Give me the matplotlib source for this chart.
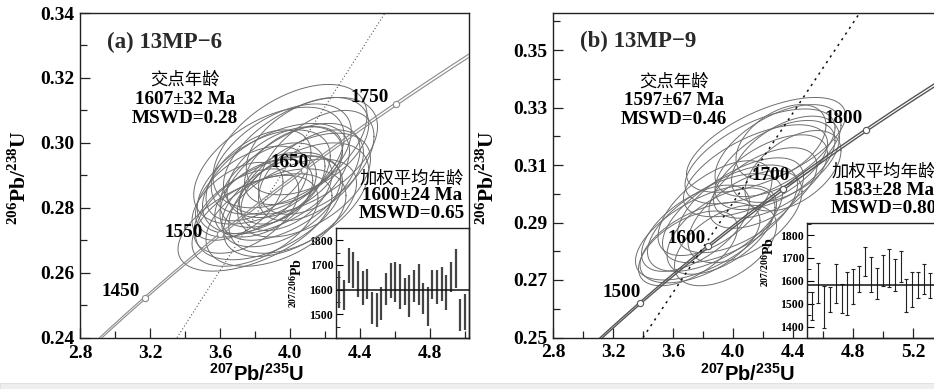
import numpy as np
import matplotlib
matplotlib.use('Agg')
import matplotlib.pyplot as plt
from matplotlib.ticker import MultipleLocator
from matplotlib.patches import Rectangle

plt.rcParams['mathtext.fontset'] = 'custom'
plt.rcParams['mathtext.bf'] = 'Liberation Serif:bold'
plt.rcParams['mathtext.rm'] = 'Liberation Serif:bold'
plt.rcParams['mathtext.sf'] = 'Liberation Sans:bold'

# decay constants (1/yr) for the concordia
L238 = 1.55125e-10
L235 = 9.8485e-10

# ---- panel (a) 13MP-6 : ellipses (centre, 2s half-extent x / y, rho)
a_ex = [4.00, 4.06, 3.95, 4.10, 3.88, 4.15, 3.92, 3.85, 4.00, 3.90, 3.97, 4.08, 3.82, 3.93,
        4.02, 3.78, 3.88, 3.92, 3.80, 4.00, 3.95, 4.05, 3.85, 3.75, 4.12, 3.98, 3.70, 3.80]
a_ey = [0.2990, 0.2960, 0.2950, 0.2990, 0.2930, 0.2940, 0.2890, 0.2880, 0.2880, 0.2870,
        0.2910, 0.2870, 0.2900, 0.2860, 0.2930, 0.2850, 0.2800, 0.2770, 0.2760, 0.2800,
        0.2820, 0.2830, 0.2830, 0.2790, 0.2900, 0.2850, 0.2820, 0.2755]
a_sx = [0.44, 0.44, 0.40, 0.35, 0.43, 0.33, 0.42, 0.38, 0.40, 0.30, 0.33, 0.38, 0.30, 0.22,
        0.28, 0.32, 0.42, 0.40, 0.36, 0.38, 0.34, 0.40, 0.28, 0.30, 0.30, 0.26, 0.26, 0.44]
a_sy = [0.019, 0.018, 0.017, 0.015, 0.018, 0.016, 0.017, 0.016, 0.018, 0.013, 0.014, 0.016,
        0.014, 0.011, 0.012, 0.014, 0.016, 0.015, 0.014, 0.015, 0.014, 0.017, 0.012, 0.013,
        0.014, 0.012, 0.012, 0.015]
a_rho = [0.5, 0.5, 0.5, 0.45, 0.5, 0.5, 0.5, 0.5, 0.55, 0.45, 0.45, 0.5, 0.5, 0.4,
         0.45, 0.5, 0.5, 0.45, 0.5, 0.5, 0.5, 0.5, 0.45, 0.5, 0.5, 0.45, 0.5, 0.55]
a_ages = [1450, 1550, 1650, 1750]
a_disc_x = [3.354, 4.543]
a_disc_y = [0.24, 0.34]
a_wm_top = [1674, 1640, 1770, 1752, 1715, 1674, 1685, 1592, 1585, 1612, 1667, 1708, 1712, 1702,
            1649, 1660, 1681, 1704, 1626, 1612, 1678, 1678, 1691, 1658, 1712, 1763, 1564, 1581]
a_wm_bot = [1526, 1516, 1626, 1605, 1571, 1537, 1564, 1461, 1448, 1475, 1537, 1567, 1551, 1523,
            1537, 1489, 1551, 1537, 1503, 1452, 1562, 1540, 1553, 1516, 1592, 1608, 1434, 1438]
a_wm_mean = 1600

# ---- panel (b) 13MP-9
b_ex = [4.22, 4.18, 4.30, 4.15, 4.28, 4.35, 4.25, 4.40, 4.32, 4.20,
        3.82, 3.88, 3.78, 3.98, 3.92, 3.75, 4.05, 3.70, 3.95, 4.08, 3.88]
b_ey = [0.3170, 0.3130, 0.3150, 0.3080, 0.3100, 0.3120, 0.3060, 0.3080, 0.3180, 0.3020,
        0.2865, 0.2900, 0.2830, 0.2930, 0.2870, 0.2880, 0.2960, 0.2810, 0.2820, 0.2920, 0.2950]
b_sx = [0.53, 0.50, 0.42, 0.48, 0.40, 0.36, 0.38, 0.32, 0.30, 0.36,
        0.47, 0.45, 0.40, 0.45, 0.36, 0.36, 0.42, 0.33, 0.34, 0.38, 0.38]
b_sy = [0.0165, 0.0165, 0.0160, 0.0160, 0.0155, 0.0150, 0.0145, 0.0140, 0.0130, 0.0140,
        0.0165, 0.0170, 0.0140, 0.0170, 0.0150, 0.0150, 0.0165, 0.0130, 0.0140, 0.0160, 0.0165]
b_rho = [0.62, 0.6, 0.55, 0.6, 0.55, 0.5, 0.55, 0.5, 0.45, 0.55,
         0.6, 0.6, 0.55, 0.6, 0.55, 0.6, 0.6, 0.55, 0.5, 0.55, 0.6]
b_ages = [1500, 1600, 1700, 1800]
b_disc_x = [3.40, 4.84]
b_disc_y = [0.25, 0.3625]
b_wm_top = [1549, 1680, 1578, 1575, 1673, 1585, 1637, 1651, 1663, 1746, 1705,
            1656, 1714, 1739, 1695, 1729, 1610, 1637, 1637, 1673, 1634]
b_wm_bot = [1427, 1505, 1395, 1464, 1505, 1458, 1449, 1498, 1552, 1619, 1552,
            1520, 1578, 1575, 1556, 1593, 1464, 1486, 1524, 1544, 1527]
b_wm_mean = 1583

W, H = 934, 389
fig = plt.figure(figsize=(W / 100, H / 100), dpi=100)
fig.patch.set_facecolor('white')

SERIF = ['Liberation Serif', 'DejaVu Serif']
CJK = ['Noto Sans CJK SC', 'DejaVu Sans']


def box(l, r, t, b):
    return [l / W, (H - b) / H, (r - l) / W, (b - t) / H]


def concordia(t_ma, k=1.0):
    t = np.asarray(t_ma) * 1e6
    return np.exp(L235 * k * t) - 1, np.exp(L238 * t) - 1


def draw_panel(ax, ex, ey, sx, sy, rho, ages, dx, dy, ecol, ccol, clw, dstyle):
    tt = np.linspace(0, 2 * np.pi, 150)
    for i in range(len(ex)):
        x = ex[i] + sx[i] * np.cos(tt)
        y = ey[i] + sy[i] * (rho[i] * np.cos(tt) + np.sqrt(1 - rho[i] ** 2) * np.sin(tt))
        ax.plot(x, y, color=ecol, lw=0.7, zorder=2)
    tc = np.linspace(1000, 2300, 400)
    for k in (0.9986, 1.0014):
        cx, cy = concordia(tc, k)
        ax.plot(cx, cy, color=ccol, lw=clw, zorder=3)
    mx, my = concordia(ages)
    ax.plot(mx, my, 'o', ms=4.5, mfc='white', mec=ccol, mew=0.8, zorder=4)
    ax.plot(dx, dy, color=dstyle[0], lw=dstyle[1], ls=dstyle[2], zorder=3)


def style_axes(ax, xmaj, ymaj, yoff=0.0):
    ax.xaxis.set_major_locator(MultipleLocator(xmaj))
    ax.xaxis.set_minor_locator(MultipleLocator(xmaj / 2))
    ax.yaxis.set_major_locator(MultipleLocator(ymaj, offset=yoff))
    ax.yaxis.set_minor_locator(MultipleLocator(ymaj / 2))
    ax.tick_params(which='both', direction='in', top=False, right=False, width=0.9, color='#222222',
                   labelsize=14)
    ax.tick_params(which='major', length=7)
    ax.tick_params(which='minor', length=5)
    ax.tick_params(axis='x', pad=5)
    ax.tick_params(axis='y', pad=4)
    for lab in ax.get_xticklabels() + ax.get_yticklabels():
        lab.set_fontfamily(SERIF)
        lab.set_fontweight('bold')
    for s in ax.spines.values():
        s.set_linewidth(1.0)
        s.set_color('#222222')


def draw_inset(ax, top, bot, mean, x0, width_units, caps):
    idx = np.arange(1, len(top) + 1)
    top = np.array(top)
    bot = np.array(bot)
    if caps:
        ax.errorbar(idx, (top + bot) / 2, yerr=(top - bot) / 2, fmt='none', ecolor='#222222',
                    elinewidth=0.8, capsize=1.6, capthick=0.8)
    else:
        ax.vlines(idx, bot, top, color='#444444', lw=1.6)
    ax.axhline(mean, color='#111111', lw=1.1)
    ax.set_xlim(x0, x0 + width_units)
    ax.set_xticks([])
    ax.yaxis.set_major_locator(MultipleLocator(100))
    ax.yaxis.set_minor_locator(MultipleLocator(50))
    ax.tick_params(which='both', direction='in', right=False, pad=2, labelsize=8.5)
    ax.tick_params(which='major', length=5)
    ax.tick_params(which='minor', length=3)
    for lab in ax.get_yticklabels():
        lab.set_fontfamily(SERIF)
        lab.set_fontweight('bold')
    for s in ax.spines.values():
        s.set_linewidth(1.0)
        s.set_color('#222222')


txt = dict(fontfamily=SERIF, fontweight='bold', ha='center', va='center', fontsize=13.8)
cjk = dict(fontfamily=CJK, ha='center', va='center', fontsize=12.5)

# ================= panel (a)
axa = fig.add_axes(box(80, 468.5, 13, 337.7))
axa.set_zorder(3)
axa.patch.set_visible(False)
draw_panel(axa, a_ex, a_ey, a_sx, a_sy, a_rho, a_ages, a_disc_x, a_disc_y,
           '#6e6e6e', '#8a8a8a', 0.8, ('#555555', 0.8, (0, (1, 2))))
axa.set_xlim(2.8, 2.8 + 388.5 / 175)
axa.set_ylim(0.24, 0.34)
style_axes(axa, 0.4, 0.02)

axa.text(2.955, 0.331, '(a) 13MP\u22126', fontsize=16.5, fontfamily=SERIF, fontweight='bold',
         ha='left', va='center', color='#2a2a2a')
axa.text(3.40, 0.3195, '交点年龄', **cjk)
axa.text(3.40, 0.3134, '1607±32 Ma', **txt)
axa.text(3.40, 0.3076, 'MSWD=0.28', **txt)
axa.text(4.457, 0.3140, '1750', **txt)
axa.text(4.00, 0.2941, '1650', **txt)
axa.text(3.394, 0.2725, '1550', **txt)
axa.text(3.034, 0.2541, '1450', **txt)
axa.text(4.697, 0.2890, '加权平均年龄', **cjk)
axa.text(4.697, 0.2839, '1600±24 Ma', **txt)
axa.text(4.697, 0.2784, 'MSWD=0.65', **txt)

ina = fig.add_axes(box(336, 468.5, 228, 337.7))
ina.set_zorder(2)
draw_inset(ina, a_wm_top, a_wm_bot, a_wm_mean, 0.25, 132.5 / 4.65, False)
ina.set_ylim(1405, 1850)
fig.text(297 / W, (H - 283) / H, r'$^{\mathbf{207/206}}$Pb', rotation=90, fontsize=10,
         fontfamily=SERIF, fontweight='bold', ha='center', va='center')

fig.text(19 / W, (H - 178) / H, r'$^{\mathbf{206}}$Pb/$^{\mathbf{238}}$U', rotation=90,
         fontsize=15.5, fontfamily=SERIF, fontweight='bold', ha='center', va='center')
fig.text(257 / W, (H - 374) / H, r'$^{\mathsf{207}}$Pb/$^{\mathsf{235}}$U',
         fontsize=14.5, fontfamily='Liberation Sans', fontweight='bold', ha='center', va='center')

# ================= panel (b)
axb = fig.add_axes(box(553, 1003, 13, 337.5))
axb.set_zorder(3)
axb.patch.set_visible(False)
draw_panel(axb, b_ex, b_ey, b_sx, b_sy, b_rho, b_ages, b_disc_x, b_disc_y,
           '#6e6e6e', '#555555', 1.0, ('#111111', 1.1, (0, (1.5, 3))))
axb.set_xlim(2.8, 2.8 + 450 / 150)
axb.set_ylim(0.25, 0.25 + 324.5 / 2875)
style_axes(axb, 0.4, 0.02, 0.01)

axb.text(2.98, 0.3528, '(b) 13MP\u22129', fontsize=16.5, fontfamily=SERIF, fontweight='bold',
         ha='left', va='center', color='#2a2a2a')
axb.text(3.607, 0.3391, '交点年龄', **cjk)
axb.text(3.607, 0.3326, '1597±67 Ma', **txt)
axb.text(3.607, 0.3260, 'MSWD=0.46', **txt)
axb.text(4.74, 0.3263, '1800', **txt)
axb.text(4.253, 0.3065, '1700', **txt)
axb.text(3.693, 0.2846, '1600', **txt)
axb.text(3.26, 0.2655, '1500', **txt)
axb.text(5.007, 0.3077, '加权平均年龄', **cjk)
axb.text(5.007, 0.3013, '1583±28 Ma', **txt)
axb.text(5.007, 0.2950, 'MSWD=0.80', **txt)

inb = fig.add_axes(box(807, 1003, 223, 337.5))
inb.set_zorder(2)
draw_inset(inb, b_wm_top, b_wm_bot, b_wm_mean, 0.15, 196 / 5.9, True)
inb.set_ylim(1352, 1853)
fig.text(769 / W, (H - 262) / H, r'$^{\mathbf{207/206}}$Pb', rotation=90, fontsize=10,
         fontfamily=SERIF, fontweight='bold', ha='center', va='center')

fig.text(488 / W, (H - 178) / H, r'$^{\mathbf{206}}$Pb/$^{\mathbf{238}}$U', rotation=90,
         fontsize=15.5, fontfamily=SERIF, fontweight='bold', ha='center', va='center')
fig.text(748 / W, (H - 374) / H, r'$^{\mathsf{207}}$Pb/$^{\mathsf{235}}$U',
         fontsize=14.5, fontfamily='Liberation Sans', fontweight='bold', ha='center', va='center')

# light strip at the bottom edge of the scan
fig.add_artist(Rectangle((0, 0), 1, 6 / H, transform=fig.transFigure,
                         facecolor='#eeeeee', edgecolor='#dddddd', lw=0.6, zorder=20))

fig.savefig('out.png', dpi=100)
